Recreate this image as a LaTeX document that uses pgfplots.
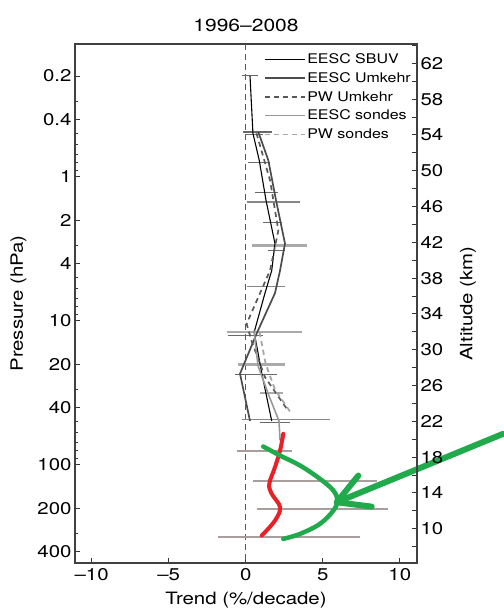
\documentclass[border=0pt]{standalone}
\usepackage{fontspec}
\setmainfont{TeX Gyre Heros}[FakeStretch=1.2]
\usepackage{pgfplots}
\pgfplotsset{compat=1.18}
\definecolor{myred}{RGB}{233,32,38}
\definecolor{mygreen}{RGB}{33,170,76}
\definecolor{ebdark}{RGB}{105,105,105}
\definecolor{ebmid}{RGB}{135,135,135}
\definecolor{eblight}{RGB}{170,170,170}
\definecolor{ebsonde}{RGB}{168,158,158}
\begin{document}
\begin{tikzpicture}
\useasboundingbox (-75pt,-46pt) rectangle (428pt,563pt);
\begin{axis}[
  at={(0pt,0pt)}, anchor=south west, scale only axis,
  width=342pt, height=519pt,
  xmin=-11.08, xmax=11.12,
  ymode=log, y dir=reverse, ymin=0.12, ymax=480,
  xtick={-10,-5,0,5,10}, xticklabels={--10,--5,0,5,10},
  ytick={0.2,0.4,1,2,4,10,20,40,100,200,400},
  yticklabels={0.2,0.4,1,2,4,10,20,40,100,200,400},
  minor ytick={0.3,0.5,0.6,0.7,0.8,0.9,3,5,6,7,8,9,30,50,60,70,80,90,300},
  minor xtick={},
  xtick pos=lower, ytick pos=left, tick align=inside,
  major tick length=5pt, minor tick length=3pt,
  every tick/.style={black!80, line width=0.9pt},
  axis line style={line width=1.3pt, black!75},
  /pgf/number format/assume math mode=true,
  ticklabel style={font=\fontsize{17}{19}\selectfont},
  xticklabel style={yshift=-2pt},
  label style={font=\fontsize{17}{19}\selectfont},
  xlabel style={yshift=-4pt},
  ylabel style={yshift=4pt},
  title style={font=\fontsize{17.5}{19}\selectfont, yshift=3pt},
  title={1996--2008},
  xlabel={Trend (\%/decade)},
  ylabel={Pressure (hPa)},
  clip=false,
  legend style={draw=none, fill=none, at={(0.553,0.984)}, anchor=north west,
    font=\fontsize{13.3}{15}\selectfont, row sep=5pt, inner sep=0pt,
    nodes={inner sep=1.2pt}},
  legend cell align=left,
  legend image code/.code={\draw[#1] (0pt,0pt) -- (40pt,0pt);},
]
% zero line
\addplot[forget plot, black!65, line width=1pt, dash pattern=on 6pt off 4pt] coordinates {(0,0.12) (0,480)};
% error bars (dark thin)
\addplot[forget plot, ebdark, line width=1.3pt] coordinates {(-0.26,0.198) (0.82,0.198)};
\addplot[forget plot, ebdark, line width=1.3pt] coordinates {(-0.16,0.49) (1.69,0.49)};
\addplot[forget plot, ebdark, line width=1.3pt] coordinates {(-0.05,0.51) (1.12,0.51)};
\addplot[forget plot, ebdark, line width=1.3pt] coordinates {(0.15,0.80) (1.58,0.80)};
\addplot[forget plot, ebdark, line width=1.3pt] coordinates {(0.60,1.29) (2.12,1.29)};
\addplot[forget plot, ebdark, line width=1.3pt] coordinates {(1.12,2.07) (2.34,2.07)};
\addplot[forget plot, ebdark, line width=1.3pt] coordinates {(1.45,3.25) (2.55,3.25)};
\addplot[forget plot, ebdark, line width=1.3pt] coordinates {(-1.15,12.65) (1.12,12.65)};
\addplot[forget plot, ebdark, line width=1.3pt] coordinates {(-0.69,23.6) (2.01,23.6)};
\addplot[forget plot, ebdark, line width=1.3pt] coordinates {(0.93,50.6) (2.88,50.6)};
% error bars (medium)
\addplot[forget plot, ebmid, line width=1.5pt] coordinates {(0.06,1.50) (3.53,1.50)};
\addplot[forget plot, ebmid, line width=1.5pt] coordinates {(0.06,5.78) (2.55,5.78)};
\addplot[forget plot, ebmid, line width=1.5pt] coordinates {(-0.26,48.5) (5.47,48.5)};
% error bars (light thick)
\addplot[forget plot, eblight, line width=2.6pt] coordinates {(0.39,3.0) (3.96,3.0)};
\addplot[forget plot, eblight, line width=2.6pt] coordinates {(-1.23,12.0) (3.64,12.0)};
\addplot[forget plot, eblight, line width=2.6pt] coordinates {(-0.48,20.1) (2.55,20.1)};
\addplot[forget plot, eblight, line width=2.6pt] coordinates {(0.93,31.8) (2.44,31.8)};
% error bars (sondes, lower)
\addplot[forget plot, ebsonde, line width=2pt] coordinates {(-0.58,80.5) (2.99,80.5)};
\addplot[forget plot, ebsonde, line width=2pt] coordinates {(0.49,128.5) (8.50,128.5)};
\addplot[forget plot, ebsonde, line width=2pt] coordinates {(0.71,202) (9.26,202)};
\addplot[forget plot, ebsonde, line width=2pt] coordinates {(-1.78,318) (7.42,318)};
% profiles
\addplot[black, line width=1.1pt] coordinates {
 (0.28,0.2) (0.47,0.5) (0.88,0.77) (1.32,1.46) (1.90,2.91) (1.69,4.48)
 (1.25,6.44) (0.55,12.0) (1.06,23.6) (1.69,49.6)};
\addlegendentry{EESC SBUV}
\addplot[black!70, line width=1.7pt] coordinates {
 (0.82,0.49) (1.47,0.77) (1.97,1.46) (2.55,2.91) (2.23,4.48) (1.90,6.44)
 (0.75,12.0) (-0.37,23.3) (0.28,49.6)};
\addlegendentry{EESC Umkehr}
\addplot[black!65, line width=1.7pt, dash pattern=on 5pt off 4pt] coordinates {
 (0.70,0.5) (1.58,1.06) (2.12,2.36) (1.58,4.48) (0.82,6.85) (0.06,10.5)
 (0.40,14) (1.25,24.6) (2.66,40.7)};
\addlegendentry{PW Umkehr}
\addplot[black!40, line width=1.6pt] coordinates {
 (0.54,11.7) (0.80,20.5) (1.45,31.9) (2.16,49.6) (2.23,67.5)};
\addlegendentry{EESC sondes}
\addplot[black!35, line width=1.8pt, dash pattern=on 5pt off 4pt] coordinates {
 (0.90,12) (1.30,20) (1.90,30) (2.90,43)};
\addlegendentry{PW sondes}
% hand-drawn overlays
\addplot[forget plot, myred, line width=4pt, line cap=round, smooth, tension=0.6] coordinates {
 (2.44,60.9) (2.23,79.6) (1.90,103.9) (1.53,135.5) (1.69,158.9) (2.23,196.9) (1.90,243.7) (1.04,309.7)};
\addplot[forget plot, mygreen, line width=4.5pt, line cap=round, smooth, tension=0.6] coordinates {
 (1.14,74.6) (2.23,86.2) (3.53,101.1) (4.82,125.1) (5.69,150.7) (5.95,177) (5.69,207.6) (4.82,256.8) (3.53,301.4) (2.44,326.4)};
\addplot[forget plot, mygreen, line width=6pt, line cap=round] coordinates {(16.71,60.9) (5.91,181.9)};
\addplot[forget plot, mygreen, line width=6pt, line cap=round, line join=round] coordinates {(7.31,118.7) (5.91,181.9) (8.18,195)};
\end{axis}
\begin{axis}[
  at={(0pt,0pt)}, anchor=south west, scale only axis,
  width=342pt, height=519pt,
  xmin=-11.08, xmax=11.12, ymin=6.17, ymax=64.16,
  hide x axis, axis y line*=right,
  ytick={10,14,...,62}, minor ytick={8,12,...,64},
  tick align=inside, major tick length=5pt, minor tick length=5pt,
  every tick/.style={black!80, line width=0.9pt},
  axis line style={line width=1.3pt, black!75},
  /pgf/number format/assume math mode=true,
  ticklabel style={font=\fontsize{17}{19}\selectfont},
  label style={font=\fontsize{17}{19}\selectfont},
  ylabel style={yshift=-10pt},
  ylabel={Altitude (km)},
]
\end{axis}
\end{tikzpicture}
\end{document}
